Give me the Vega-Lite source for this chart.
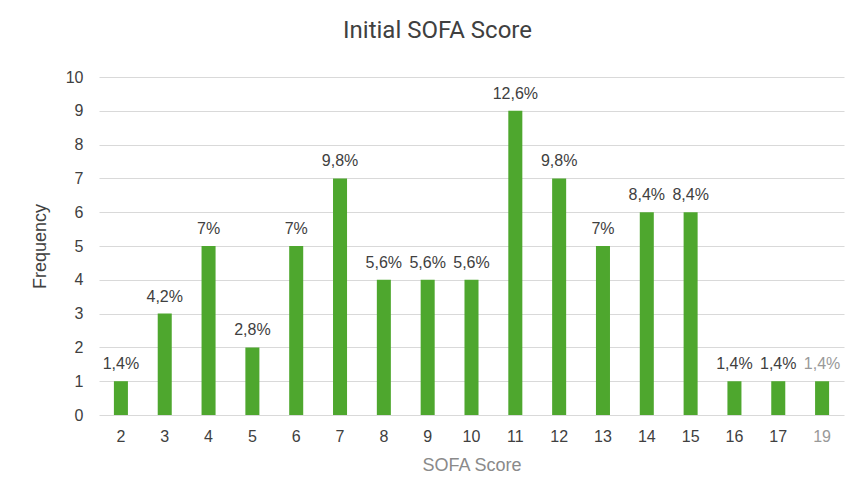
{
  "$schema": "https://vega.github.io/schema/vega-lite/v6.json",
  "width": 745,
  "height": 338,
  "autosize": {"type": "none"},
  "padding": {"left": 99, "top": 77, "right": 9, "bottom": 85},
  "background": "white",
  "title": {
    "text": "Initial SOFA Score",
    "font": "Roboto",
    "fontSize": 24,
    "fontWeight": "normal",
    "color": "#404040",
    "offset": 26,
    "dx": -34
  },
  "data": {
    "values": [
      {"score": "2", "freq": 1, "pct": "1,4%"},
      {"score": "3", "freq": 3, "pct": "4,2%"},
      {"score": "4", "freq": 5, "pct": "7%"},
      {"score": "5", "freq": 2, "pct": "2,8%"},
      {"score": "6", "freq": 5, "pct": "7%"},
      {"score": "7", "freq": 7, "pct": "9,8%"},
      {"score": "8", "freq": 4, "pct": "5,6%"},
      {"score": "9", "freq": 4, "pct": "5,6%"},
      {"score": "10", "freq": 4, "pct": "5,6%"},
      {"score": "11", "freq": 9, "pct": "12,6%"},
      {"score": "12", "freq": 7, "pct": "9,8%"},
      {"score": "13", "freq": 5, "pct": "7%"},
      {"score": "14", "freq": 6, "pct": "8,4%"},
      {"score": "15", "freq": 6, "pct": "8,4%"},
      {"score": "16", "freq": 1, "pct": "1,4%"},
      {"score": "17", "freq": 1, "pct": "1,4%"},
      {"score": "19", "freq": 1, "pct": "1,4%"}
    ]
  },
  "encoding": {
    "x": {
      "field": "score",
      "type": "ordinal",
      "sort": null,
      "scale": {"paddingInner": 0.68, "paddingOuter": 0.34},
      "axis": {
        "title": "SOFA Score",
        "titleFont": "Liberation Sans",
        "titleFontSize": 18,
        "titleFontWeight": "normal",
        "titleColor": "#8a8a8a",
        "titlePadding": 12,
        "labelAngle": 0,
        "labelFont": "Liberation Sans",
        "labelFontSize": 16,
        "labelColor": {"condition": {"test": "datum.value == '19'", "value": "#999999"}, "value": "#404040"},
        "labelPadding": 13,
        "domain": false,
        "ticks": false,
        "grid": false
      }
    },
    "y": {
      "field": "freq",
      "type": "quantitative",
      "scale": {"domain": [0, 10]},
      "axis": {
        "title": "Frequency",
        "titleFont": "Liberation Sans",
        "titleFontSize": 18,
        "titleFontWeight": "normal",
        "titleColor": "#404040",
        "titlePadding": 16,
        "values": [0, 1, 2, 3, 4, 5, 6, 7, 8, 9, 10],
        "labelOverlap": false,
        "labelFont": "Liberation Sans",
        "labelFontSize": 16,
        "labelColor": "#404040",
        "labelPadding": 16,
        "domain": false,
        "ticks": false,
        "grid": true,
        "gridColor": "#d9d9d9",
        "gridWidth": 1.2
      }
    }
  },
  "layer": [
    {"mark": {"type": "bar", "color": "#4ea72e"}},
    {
      "mark": {"type": "text", "baseline": "bottom", "dy": -9, "font": "Liberation Sans", "fontSize": 16},
      "encoding": {
        "text": {"field": "pct"},
        "color": {
          "condition": {"test": "datum.score == '19'", "value": "#999999"},
          "value": "#404040"
        }
      }
    }
  ],
  "config": {"view": {"stroke": null}}
}
